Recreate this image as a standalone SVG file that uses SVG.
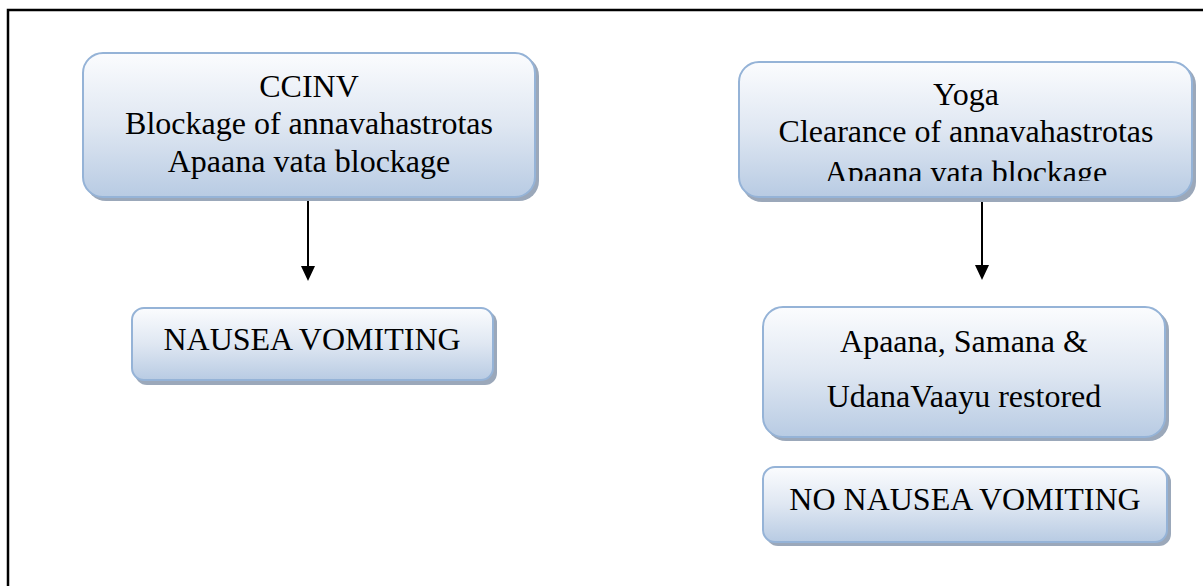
<svg xmlns="http://www.w3.org/2000/svg" width="1203" height="586" viewBox="0 0 1203 586">
  <style>
    .box { fill: url(#boxFill); stroke: #95b3d7; stroke-width: 2; }
    .shadow { fill: #9ba8ba; }
    .label { font-family: "Liberation Serif", "Times New Roman", serif; font-size: 32px; fill: #000; text-anchor: middle; }
    .frame { stroke: #000; stroke-width: 2.5; fill: none; }
    .stem { stroke: #000; stroke-width: 2; }
    .head { fill: #000; }
  </style>
  <defs>
    <linearGradient id="boxFill" x1="0" y1="0" x2="0" y2="1">
      <stop offset="0" stop-color="#fbfcfe"/>
      <stop offset="0.5" stop-color="#dfe7f2"/>
      <stop offset="1" stop-color="#b8cbe3"/>
    </linearGradient>
    <clipPath id="yogaClip">
      <rect x="739" y="62" width="453" height="119"/>
    </clipPath>
  </defs>

  <rect width="1203" height="586" fill="#fff"/>

  <!-- page frame -->
  <path class="frame" d="M8,586 V10 H1203"/>

  <!-- connectors -->
  <g id="connectors">
    <line class="stem" x1="308" y1="197" x2="308" y2="266"/>
    <path class="head" d="M301,266 L315,266 L308,281 Z"/>
    <line class="stem" x1="982" y1="197" x2="982" y2="265"/>
    <path class="head" d="M975,265 L989,265 L982,280 Z"/>
  </g>

  <g id="ccinv">
    <rect class="shadow" x="86" y="56" width="453" height="145" rx="20"/>
    <rect class="box" x="83" y="53" width="452" height="144" rx="20"/>
    <text class="label" x="309" y="97">CCINV</text>
    <text class="label" x="309" y="134">Blockage of annavahastrotas</text>
    <text class="label" x="309" y="172">Apaana vata blockage</text>
  </g>

  <g id="yoga">
    <rect class="shadow" x="742" y="65" width="454" height="137" rx="20"/>
    <rect class="box" x="739" y="62" width="453" height="135" rx="20"/>
    <g clip-path="url(#yogaClip)">
      <text class="label" x="966" y="105">Yoga</text>
      <text class="label" x="966" y="142">Clearance of annavahastrotas</text>
      <text class="label" x="966" y="183">Apaana vata blockage</text>
    </g>
  </g>

  <g id="nausea">
    <rect class="shadow" x="135" y="311" width="362" height="74" rx="12"/>
    <rect class="box" x="132" y="308" width="361" height="72" rx="12"/>
    <text class="label" x="312" y="350">NAUSEA VOMITING</text>
  </g>

  <g id="restored">
    <rect class="shadow" x="766" y="310" width="403" height="131" rx="20"/>
    <rect class="box" x="763" y="307" width="402" height="130" rx="20"/>
    <text class="label" x="964" y="352">Apaana, Samana &amp;</text>
    <text class="label" x="964" y="407">UdanaVaayu restored</text>
  </g>

  <g id="no-nausea">
    <rect class="shadow" x="766" y="470" width="405" height="76" rx="12"/>
    <rect class="box" x="763" y="467" width="404" height="75" rx="12"/>
    <text class="label" x="965" y="510">NO NAUSEA VOMITING</text>
  </g>
</svg>
